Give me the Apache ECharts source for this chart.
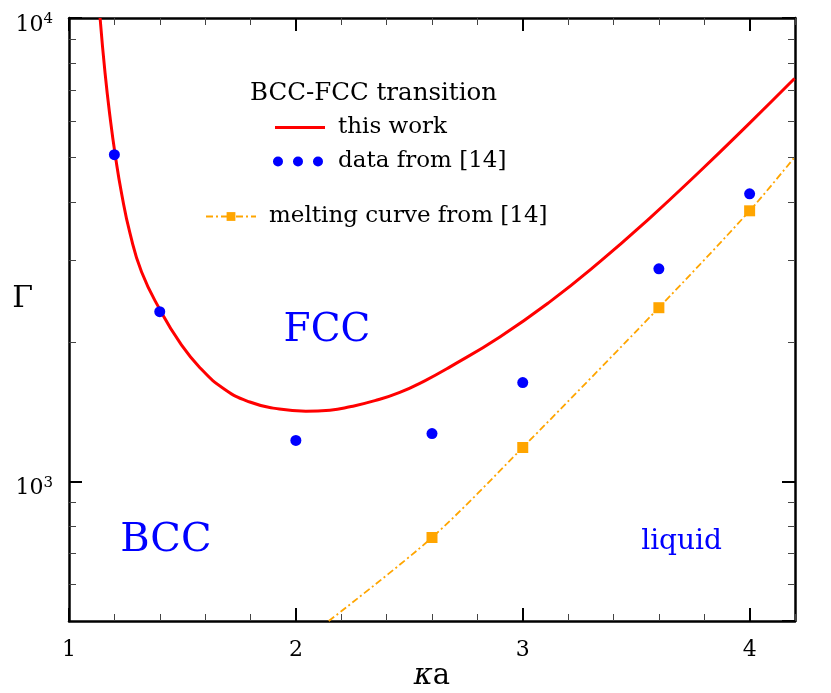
<!DOCTYPE html>
<html><head><meta charset="utf-8">
<script src="https://cdn.jsdelivr.net/npm/echarts@6/dist/echarts.min.js"></script>
<style>html,body{margin:0;padding:0;background:#fff}#c{width:831px;height:693px}</style>
</head><body><div id="c"></div>
<script>
// ---- data ----
const curveX = [1.137,1.159,1.181,1.204,1.232,1.269,1.320,1.404,1.489,1.577,1.687,1.797,1.908,2.044,2.150,2.238,2.348,2.458,2.568,2.678,2.899,3.119,3.339,3.560,3.780,4.000,4.198];
const curveY = [10000,7602,6110,5054,4178,3430,2831,2333,1993,1760,1580,1484,1438,1418,1425,1449,1494,1557,1649,1765,2051,2441,2977,3702,4665,5933,7403];
const dataX = [1.2,1.4,2.0,2.6,3.0,3.6,4.0];
const dataY = [5070,2325,1226,1269,1635,2877,4176];
const meltX = [2.145,2.6,3.0,3.6,4.0,4.2];
const meltY = [500,757,1184,2371,3837,5020];
const meltMarked = [false,true,true,true,true,false];
const annotText = ['FCC','BCC','liquid'];
const annotX = [2.137,1.427,3.70];
const annotY = [2116,745,742];
const annotSize = [39,40,28];
const xMajorTicks = [1,2,3,4];
const xLabels = ['1','2','3','4'];
const yMinorTicks = [600,700,800,900,2000,3000,4000,5000,6000,7000,8000,9000];

const FONT = 'DejaVu Serif';
const yMin = 500, yMax = 10000, xMin = 1, xMax = 4.2;

const chart = echarts.init(document.getElementById('c'), null, {renderer:'canvas'});

const majorTick = {show:true, inside:true, length:13, lineStyle:{color:'#000', width:2}};
const minorTick = {show:true, inside:true, length:7, lineStyle:{color:'#444', width:1}};
const axisLineStyle = {show:true, lineStyle:{color:'#000', width:2.5}};

const xMinorVals = [];
for (let i = 0; i <= 16; i++) { const v = +(xMin + i*0.2).toFixed(1); if (xMajorTicks.indexOf(v) < 0) xMinorVals.push(v); }

function xAxisDef(pos, major, withLabel) {
  return {
    type:'value', position:pos, min:xMin, max:xMax, gridIndex:0,
    axisLine: major ? axisLineStyle : {show:false},
    axisTick: Object.assign({}, major ? majorTick : minorTick, {customValues: major ? xMajorTicks : xMinorVals}),
    axisLabel: withLabel ? {show:true, customValues:xMajorTicks, margin:18, color:'#000', fontFamily:FONT, fontSize:22,
      formatter: v => xLabels[xMajorTicks.indexOf(v)] } : {show:false},
    splitLine:{show:false},
    name: withLabel ? '{k|κ}{a|a}' : '',
    nameLocation:'middle', nameGap:41, nameMoveOverlap:false,
    nameTextStyle:{rich:{k:{fontFamily:FONT, fontSize:29, fontStyle:'italic', color:'#000'}, a:{fontFamily:FONT, fontSize:29, color:'#000'}}}
  };
}
const lyMin = Math.log10(yMin), lyMax = Math.log10(yMax);
function yMajorDef(pos, withLabel) {
  return {
    type:'log', logBase:10, position:pos, min:yMin, max:yMax,
    axisLine: axisLineStyle, axisTick: majorTick, splitLine:{show:false}, minorTick:{show:false},
    axisLabel: withLabel ? {show:true, showMinLabel:false, margin:16, padding:[12,0,0,0],
      formatter: v => '{b|10}{s|' + Math.round(Math.log10(v)) + '}',
      rich:{b:{fontFamily:FONT, fontSize:22, color:'#000', lineHeight:24, padding:[4,0,0,0], verticalAlign:'bottom'},
            s:{fontFamily:FONT, fontSize:15, color:'#000', lineHeight:16, verticalAlign:'top'}}} : {show:false},
    name: withLabel ? '{g|Γ}\n{e| }' : '', nameLocation:'middle', nameRotate:0, nameGap:36, nameMoveOverlap:false,
    nameTextStyle:{rich:{g:{fontFamily:FONT, fontSize:30, color:'#000', lineHeight:40}, e:{fontSize:10, lineHeight:40}}}
  };
}
function yMinorDef(pos) {
  // tick-only axis placed in log10 space, same extent as the log axis
  return {
    type:'value', position:pos, min:lyMin, max:lyMax,
    axisLine:{show:false}, splitLine:{show:false}, axisLabel:{show:false},
    axisTick: Object.assign({}, minorTick, {customValues: yMinorTicks.map(v => Math.log10(v))})
  };
}

const curveData = curveX.map((x,i) => [x, curveY[i]]);
const dotData = dataX.map((x,i) => [x, dataY[i]]);
const meltData = meltX.map((x,i) => meltMarked[i] ? [x, meltY[i]] : {value:[x, meltY[i]], symbol:'none'});
const annotData = annotText.map((t,i) => ({name:t, value:[annotX[i], annotY[i]], label:{fontSize:annotSize[i]}}));

const legendText = {fontFamily:FONT, fontSize:23, color:'#000', padding:[0,0,0,8]};
const option = {
  animation:false,
  backgroundColor:'#fff',
  grid:{left:69, right:36, top:18, bottom:72, outerBoundsMode:'none', containLabel:false},
  title:{text:'BCC-FCC transition', left:250, top:81, padding:0,
    textStyle:{fontFamily:FONT, fontSize:24.5, fontWeight:'normal', color:'#000'}},
  legend:[
    {orient:'vertical', left:275, top:116, padding:0, itemWidth:50, itemHeight:3, textStyle:legendText,
     data:[{name:'this work', icon:'rect'}]},
    {orient:'vertical', left:273, top:150, padding:0, itemWidth:50, itemHeight:10, textStyle:Object.assign({}, legendText, {padding:[0,0,0,10]}),
     data:[{name:'data from [14]', icon:'path://M0,5a5,5 0 1,0 10,0a5,5 0 1,0 -10,0M20,5a5,5 0 1,0 10,0a5,5 0 1,0 -10,0M40,5a5,5 0 1,0 10,0a5,5 0 1,0 -10,0'}]},
    {orient:'vertical', left:205, top:205, padding:0, itemWidth:50, itemHeight:11, textStyle:legendText,
     data:['melting curve from [14]']}
  ],
  xAxis:[xAxisDef('bottom', true, true), xAxisDef('bottom', false, false), xAxisDef('top', true, false), xAxisDef('top', false, false)],
  yAxis:[yMajorDef('left', true), yMinorDef('left'), yMajorDef('right', false), yMinorDef('right')],
  series:[
    {name:'melting curve from [14]', type:'line', xAxisIndex:0, yAxisIndex:0, data:meltData, smooth:0.3,
     symbol:'rect', symbolSize:11, showSymbol:true, z:3,
     lineStyle:{color:'#FFA500', width:1.8, type:[7,3,2,3]}, itemStyle:{color:'#FFA500', opacity:1}},
    {name:'this work', type:'line', xAxisIndex:0, yAxisIndex:0, data:curveData, smooth:0.5,
     symbol:'none', showSymbol:false, z:4, clip:true,
     lineStyle:{color:'#FF0000', width:3}, itemStyle:{color:'#FF0000'}},
    {name:'data from [14]', type:'scatter', xAxisIndex:0, yAxisIndex:0, data:dotData,
     symbol:'circle', symbolSize:11, z:5, itemStyle:{color:'#0000FF', opacity:1}},
    {name:'annotations', type:'scatter', xAxisIndex:0, yAxisIndex:0, data:annotData, symbolSize:0, silent:true,
     itemStyle:{opacity:1},
     label:{show:true, position:'inside', formatter:p => p.name, color:'#0000FF', opacity:1, fontFamily:FONT}}
  ]
};
chart.setOption(option);
</script></body></html>
